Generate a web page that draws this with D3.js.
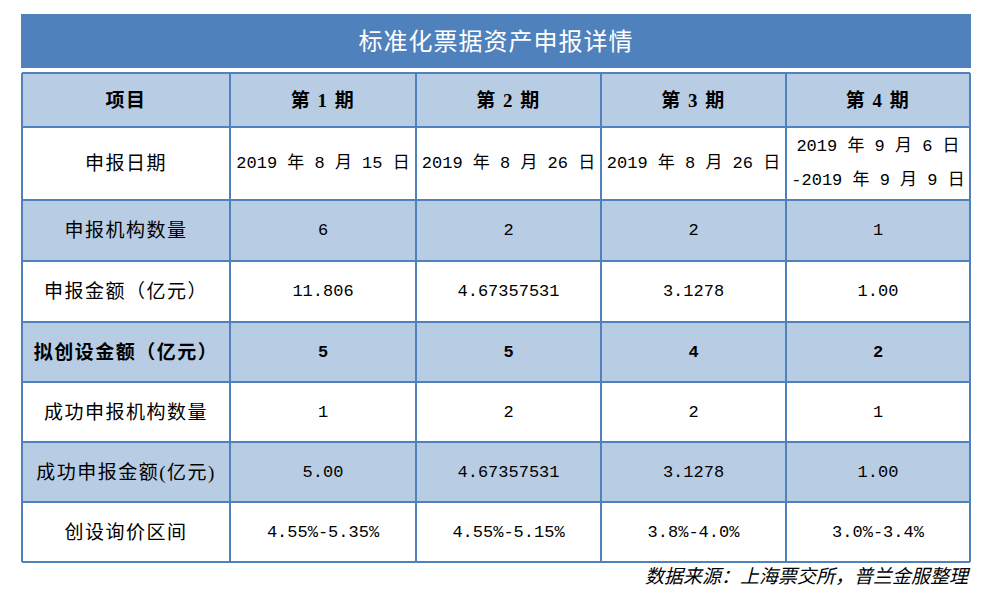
<!DOCTYPE html><html><head><meta charset="utf-8"><script src="https://cdn.jsdelivr.net/npm/d3@7"></script>
<style>body{margin:0;background:#fff}</style></head><body><svg id="c" width="988" height="598"></svg><script>
const title="标准化票据资产申报详情";
const headers=["项目","第 1 期","第 2 期","第 3 期","第 4 期"];
const rowLabels=["申报日期","申报机构数量","申报金额（亿元）","拟创设金额（亿元）","成功申报机构数量","成功申报金额(亿元)","创设询价区间"];
const period1=["2019 年 8 月 15 日","6","11.806","5","1","5.00","4.55%-5.35%"];
const period2=["2019 年 8 月 26 日","2","4.67357531","5","2","4.67357531","4.55%-5.15%"];
const period3=["2019 年 8 月 26 日","2","3.1278","4","2","3.1278","3.8%-4.0%"];
const period4=["2019 年 9 月 6 日\n-2019 年 9 月 9 日","1","1.00","2","1","1.00","3.0%-3.4%"];
const source="数据来源：上海票交所，普兰金服整理";
const boldRow=3;
const svg=d3.select("#c");
const font="'Liberation Serif','Noto Sans CJK SC',serif";
const mono="'Liberation Mono','Noto Sans CJK SC',monospace";
const blue="#4f81bd",light="#b8cce4";
const colEdges=[22,230,416,601,786,970];
const rowEdges=[73,127,200,261,322,382,442,502,562];
svg.append("rect").attr("x",21).attr("y",14).attr("width",950).attr("height",54).attr("fill",blue);
svg.append("text").attr("x",496).attr("y",42).attr("text-anchor","middle").attr("dominant-baseline","central")
 .attr("fill","#fff").attr("font-size",24).attr("letter-spacing",1).attr("font-family",font).text(title);
const rows=[headers].concat(rowLabels.map((l,i)=>[l,period1[i],period2[i],period3[i],period4[i]]));
rows.forEach((r,ri)=>{
 const y0=rowEdges[ri],y1=rowEdges[ri+1];
 const fill=(ri===0||ri%2===0)?light:"#fff";
 svg.append("rect").attr("x",22).attr("y",y0).attr("width",948).attr("height",y1-y0).attr("fill",fill);
 r.forEach((t,ci)=>{
  const cx=(colEdges[ci]+colEdges[ci+1])/2, cy=(y0+y1)/2;
  const lines=t.split("\n");
  const isVal=ri>0&&ci>0;
  const txt=svg.append("text").attr("text-anchor","middle").attr("font-family",isVal?mono:font)
   .attr("font-size",isVal?17:19).attr("fill","#000").attr("letter-spacing",isVal?0:1.5)
   .attr("font-weight",(ri===0||ri===boldRow+1)?"bold":"normal");
  lines.forEach((ln,li)=>txt.append("tspan").attr("x",cx).attr("y",cy+(li-(lines.length-1)/2)*34)
   .attr("dominant-baseline","central").text(ln));
 });
});
rowEdges.forEach(y=>svg.append("line").attr("x1",22).attr("x2",970).attr("y1",y).attr("y2",y).attr("stroke",blue).attr("stroke-width",2));
colEdges.forEach(x=>svg.append("line").attr("x1",x).attr("x2",x).attr("y1",73).attr("y2",562).attr("stroke",blue).attr("stroke-width",2));
svg.append("text").attr("x",968).attr("y",583).attr("text-anchor","end").attr("font-family",font)
 .attr("font-size",19).attr("font-style","italic").attr("fill","#000").text(source);
</script></body></html>
